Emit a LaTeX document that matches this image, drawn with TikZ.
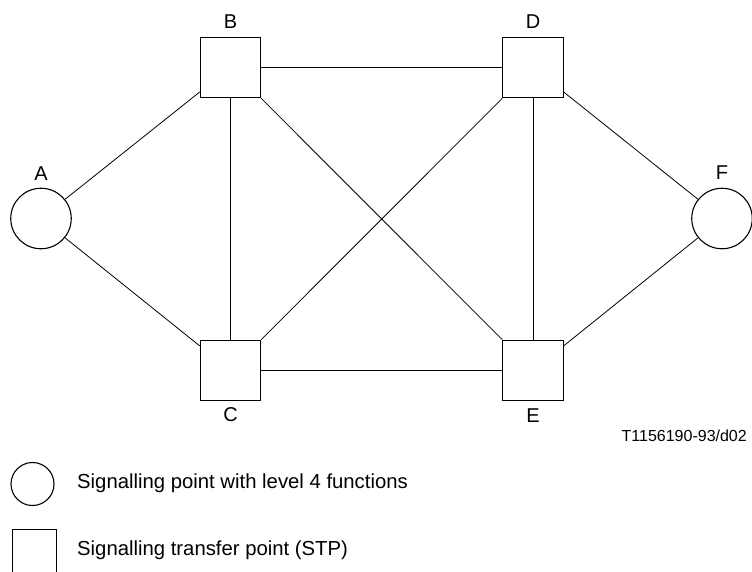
\documentclass[tikz,border=0pt]{standalone}
\usepackage{fontspec}
\setmainfont{Liberation Sans}
\begin{document}
\begin{tikzpicture}[x=1pt,y=-1pt,
  stp/.style={draw,line width=1.1pt,minimum size=60.5pt,inner sep=0pt},
  sp/.style={draw,circle,line width=1.1pt,minimum size=60.5pt,inner sep=0pt},
  link/.style={line width=0.8pt},
  lbl/.style={font=\fontsize{20}{24}\selectfont,inner sep=0pt},
  legtxt/.style={font=\fontsize{20.3}{24}\selectfont,inner sep=0pt,anchor=west}]
\useasboundingbox (0,0) rectangle (752,571);
\node[sp]  (A) at (41,218.5) {};
\node[sp]  (F) at (722,218.5) {};
\node[stp] (B) at (230.5,67.5) {};
\node[stp] (D) at (533,67.5) {};
\node[stp] (C) at (230.5,370.5) {};
\node[stp] (E) at (533,370.5) {};
\node[lbl] (lA) at (41,174) {A};
\node[lbl] (lB) at (230.5,22) {B};
\node[lbl] (lD) at (533,22) {D};
\node[lbl] (lF) at (722,173) {F};
\node[lbl] (lC) at (230.5,415) {C};
\node[lbl] (lE) at (533,416) {E};
\draw[link] (A) -- (B);
\draw[link] (A) -- (C);
\draw[link] (B) -- (D);
\draw[link] (B) -- (C);
\draw[link] (B) -- (E);
\draw[link] (C) -- (D);
\draw[link] (C) -- (E);
\draw[link] (D) -- (E);
\draw[link] (D) -- (F);
\draw[link] (E) -- (F);
\node[font=\fontsize{16}{19}\selectfont,inner sep=0pt,anchor=east] (ref) at (747,436) {T1156190-93/d02};
\node[draw,circle,line width=1.1pt,minimum size=43pt,inner sep=0pt] (kA) at (32.5,484) {};
\node[legtxt] (tA) at (77,483) {Signalling point with level 4 functions};
\node[draw,line width=1.1pt,minimum size=44pt,inner sep=0pt,anchor=north west] (kB) at (11.7,529) {};
\node[legtxt] (tB) at (77,550) {Signalling transfer point (STP)};
\end{tikzpicture}
\end{document}
